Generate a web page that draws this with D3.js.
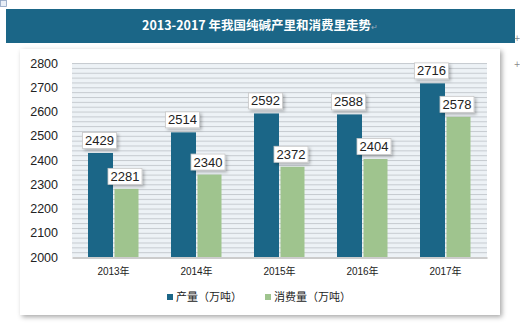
<!DOCTYPE html>
<html><head><meta charset="utf-8">
<script src="https://cdn.jsdelivr.net/npm/d3@7"></script>
<style>body{margin:0;background:#fff;}svg{display:block;}</style>
</head><body>
<script>
const categories = ["2013年","2014年","2015年","2016年","2017年"];
const production = [2429,2514,2592,2588,2716];
const consumption = [2281,2340,2372,2404,2578];
const seriesNames = ["产量（万吨）","消费量（万吨）"];
const yTicks = [2000,2100,2200,2300,2400,2500,2600,2700,2800];
const title = "2013-2017 年我国纯碱产里和消费里走势";

const W=520,H=327;
const svg=d3.select("body").append("svg").attr("width",W).attr("height",H);
const defs=svg.append("defs");
const pat=defs.append("pattern").attr("id","stripes").attr("patternUnits","userSpaceOnUse")
  .attr("width",10).attr("height",4.85);
pat.append("rect").attr("width",10).attr("height",4.85).attr("fill","#edf2f6");
pat.append("rect").attr("y",0).attr("width",10).attr("height",1).attr("fill","#c6cbd0");
const sh=defs.append("filter").attr("id","sh").attr("x","-20%").attr("y","-20%").attr("width","150%").attr("height","150%");
sh.append("feDropShadow").attr("dx",2).attr("dy",2).attr("stdDeviation",1.5).attr("flood-color","#000").attr("flood-opacity",0.25);
const sh2=defs.append("filter").attr("id","sh2").attr("x","-10%").attr("y","-10%").attr("width","120%").attr("height","120%");
sh2.append("feDropShadow").attr("dx",2).attr("dy",2).attr("stdDeviation",2.5).attr("flood-color","#000").attr("flood-opacity",0.35);

// small icon top-left
svg.append("rect").attr("x",0.5).attr("y",0.5).attr("width",6).attr("height",6).attr("fill","#e8eef6").attr("stroke","#8aa0c0").attr("stroke-width",0.8);

// title bar
svg.append("rect").attr("x",6).attr("y",9).attr("width",509).attr("height",34).attr("fill","#1b6687");
const tt=svg.append("text").attr("x",260).attr("y",30).attr("text-anchor","middle")
  .attr("font-family","'Noto Sans CJK SC',sans-serif").attr("font-weight","bold").attr("font-size",12.5).attr("fill","#fff");
tt.append("tspan").text(title);
tt.append("tspan").attr("font-size",8).attr("fill","#9ab").attr("font-weight","normal").text("↵");
svg.append("text").attr("x",517).attr("y",41).attr("text-anchor","middle").attr("font-size",8).attr("fill","#888").attr("font-family","DejaVu Sans").text("+");
svg.append("text").attr("x",517).attr("y",67).attr("text-anchor","middle").attr("font-size",8).attr("fill","#888").attr("font-family","DejaVu Sans").text("+");

// chart box
svg.append("rect").attr("x",20).attr("y",49).attr("width",480).attr("height",266).attr("fill","#fff").attr("filter","url(#sh2)");

const x0=d3.scaleBand().domain(categories).range([72,487]).paddingInner(0).paddingOuter(0);
const y=d3.scaleLinear().domain([2000,2800]).range([257,63]);

svg.append("rect").attr("x",72).attr("y",y(2800)).attr("width",415).attr("height",y(2000)-y(2800)).attr("fill","url(#stripes)");

// y axis labels
const ya=svg.append("g").attr("transform","translate(58,0)").call(d3.axisLeft(y).tickValues(yTicks).tickSize(0).tickPadding(0).tickFormat(d3.format("d")));
ya.select(".domain").remove();
ya.selectAll("text").attr("font-family","'Liberation Sans',Arial,sans-serif").attr("font-size",12.5).attr("fill","#222");

// bars
const bw=25;
const x1=d3.scaleBand().domain([0,1]).range([0,2*bw+1]);
const colors=["#1b6687","#9fc48e"];
const data=categories.map((c,i)=>({c,vals:[production[i],consumption[i]]}));
const g=svg.append("g");
data.forEach(d=>{
  const cx=x0(d.c)+x0.bandwidth()/2 - (2*bw+1)/2;
  d.vals.forEach((v,j)=>{
    g.append("rect").attr("x",cx+x1(j)+(j?1:0)).attr("y",y(v)).attr("width",bw-(j?1:0)).attr("height",y(2000)-y(v)).attr("fill",colors[j]);
  });
});
// axis line
const xa=svg.append("g").attr("transform","translate(0,257.5)").call(d3.axisBottom(x0).tickSize(0).tickPadding(10));
xa.select(".domain").attr("stroke","#999");
xa.selectAll("text").attr("font-family","'Liberation Sans','Noto Sans CJK SC',sans-serif").attr("font-size",10).attr("fill","#222");

// labels
data.forEach(d=>{
  const cx=x0(d.c)+x0.bandwidth()/2 - (2*bw+1)/2;
  d.vals.forEach((v,j)=>{
    const bx=cx+x1(j)+bw/2 - (j?1:1);
    const by=y(v)-13;
    g.append("rect").attr("x",bx-17).attr("y",by-7.5).attr("width",34).attr("height",16)
      .attr("fill","#fff").attr("stroke","#c8c8c8").attr("stroke-width",0.8).attr("filter","url(#sh)");
    g.append("text").attr("x",bx).attr("y",by+5).attr("text-anchor","middle")
      .attr("font-family","'Liberation Sans',Arial,sans-serif").attr("font-size",13).attr("fill","#222").text(v);
  });
});

// legend
const leg=[{x:167,tx:176},{x:265,tx:274}];
seriesNames.forEach((n,i)=>{
  svg.append("rect").attr("x",leg[i].x).attr("y",294).attr("width",6).attr("height",6).attr("fill",colors[i]);
  svg.append("text").attr("x",leg[i].tx).attr("y",301).attr("font-family","'Noto Sans CJK SC',sans-serif").attr("font-size",11).attr("fill","#222").text(n);
});
</script>
</body></html>
